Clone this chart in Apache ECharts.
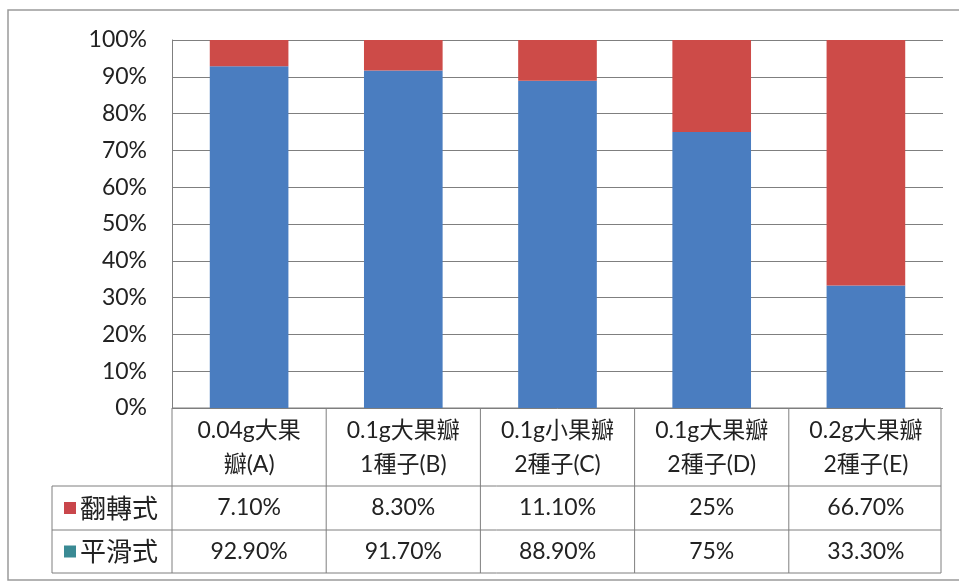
<!DOCTYPE html>
<html>
<head>
<meta charset="utf-8">
<script src="https://cdn.jsdelivr.net/npm/echarts@6/dist/echarts.min.js"></script>
<style>
  html, body { margin: 0; padding: 0; background: #ffffff; }
  #chart { width: 959px; height: 583px; }
</style>
</head>
<body>
<div id="chart"></div>
<script>
// Categories (two-line labels as shown in the data table)
const categories = ['0.04g大果\n瓣(A)', '0.1g大果瓣\n1種子(B)', '0.1g小果瓣\n2種子(C)', '0.1g大果瓣\n2種子(D)', '0.2g大果瓣\n2種子(E)'];
// Series values in percent
const flipValues = [7.1, 8.3, 11.1, 25, 66.7];      // 翻轉式
const smoothValues = [92.9, 91.7, 88.9, 75, 33.3];  // 平滑式
const seriesNames = ['翻轉式', '平滑式'];
const yTicks = [0, 10, 20, 30, 40, 50, 60, 70, 80, 90, 100];

const FONT = 'Lato, "Noto Sans CJK TC", sans-serif';
const CJK_FONT = '"Noto Sans CJK TC", sans-serif';
const RED = '#CD4B48';
const BLUE = '#4A7DC0';
const LEGEND_RED = '#C9464B';
const LEGEND_TEAL = '#3A8A94';
const LINE = '#7f7f7f';
const TEXT = '#222222';

const fmtPct = v => (Number.isInteger(v) ? v + '%' : v.toFixed(2) + '%');

const chart = echarts.init(document.getElementById('chart'), null, { renderer: 'canvas' });

const gridLeft = 172, gridRight = 943, gridTop = 40, gridBottom = 408;

chart.setOption({
  animation: false,
  backgroundColor: '#ffffff',
  textStyle: { fontFamily: FONT },
  grid: { left: gridLeft, right: 959 - gridRight, top: gridTop, bottom: 583 - gridBottom, containLabel: false },
  xAxis: {
    type: 'category',
    data: categories,
    axisLine: { show: false },
    axisTick: { show: false },
    axisLabel: {
      interval: 0,
      margin: 6,
      fontSize: 23,
      lineHeight: 34,
      color: TEXT,
      fontFamily: FONT
    }
  },
  yAxis: {
    type: 'value',
    min: yTicks[0],
    max: yTicks[yTicks.length - 1],
    interval: 10,
    axisLine: { show: true, lineStyle: { color: LINE, width: 1 } },
    axisTick: { show: false },
    axisLabel: {
      margin: 25,
      fontSize: 23,
      color: TEXT,
      fontFamily: FONT,
      formatter: v => v + '%'
    },
    splitLine: { show: true, lineStyle: { color: LINE, width: 1 } }
  },
  series: [
    {
      name: seriesNames[1],
      type: 'bar',
      stack: 'total',
      data: smoothValues,
      barWidth: '51%',
      itemStyle: { color: BLUE }
    },
    {
      name: seriesNames[0],
      type: 'bar',
      stack: 'total',
      data: flipValues,
      barWidth: '51%',
      itemStyle: { color: RED }
    }
  ]
});

// Data table beneath the plot, aligned to the category axis
function buildTable() {
  const tableRight = 941;
  const headerLeft = 52;
  const rowTop = [486, 530];
  const rowBottom = 573;
  const els = [];
  const line = (x1, y1, x2, y2) => els.push({
    type: 'line', silent: true,
    shape: { x1, y1, x2, y2 },
    style: { stroke: LINE, lineWidth: 1 }
  });

  // horizontal rules
  line(gridLeft, gridBottom, tableRight, gridBottom);
  line(headerLeft, rowTop[0], tableRight, rowTop[0]);
  line(headerLeft, rowTop[1], tableRight, rowTop[1]);
  line(headerLeft, rowBottom, tableRight, rowBottom);
  // vertical rules
  line(headerLeft, rowTop[0], headerLeft, rowBottom);
  const centers = categories.map((c, i) => chart.convertToPixel({ xAxisIndex: 0 }, i));
  const step = centers.length > 1 ? centers[1] - centers[0] : 154;
  line(gridLeft, gridBottom, gridLeft, rowBottom);
  centers.forEach((cx, i) => {
    const xr = i === centers.length - 1 ? tableRight : cx + step / 2;
    line(xr, gridBottom, xr, rowBottom);
  });

  // row headers with legend keys
  const rows = [
    { name: seriesNames[0], key: LEGEND_RED, values: flipValues },
    { name: seriesNames[1], key: LEGEND_TEAL, values: smoothValues }
  ];
  rows.forEach((r, ri) => {
    const cy = (rowTop[ri] + (ri === 0 ? rowTop[1] : rowBottom)) / 2;
    els.push({
      type: 'rect', silent: true,
      shape: { x: 64, y: cy - 6, width: 12, height: 12 },
      style: { fill: r.key }
    });
    els.push({
      type: 'text', silent: true,
      x: 80, y: cy,
      style: { text: r.name, font: '26px ' + CJK_FONT, fill: TEXT, textVerticalAlign: 'middle', textAlign: 'left' }
    });
    r.values.forEach((v, i) => {
      els.push({
        type: 'text', silent: true,
        x: centers[i], y: cy,
        style: { text: fmtPct(v), font: '23px ' + FONT, fill: TEXT, textVerticalAlign: 'middle', textAlign: 'center' }
      });
    });
  });

  // outer chart border
  els.push({
    type: 'rect', silent: true,
    shape: { x: 8, y: 10, width: 960, height: 570 },
    style: { fill: 'none', stroke: '#9a9a9a', lineWidth: 1.5 }
  });

  chart.setOption({ graphic: { elements: els } });
}
buildTable();
</script>
</body>
</html>
